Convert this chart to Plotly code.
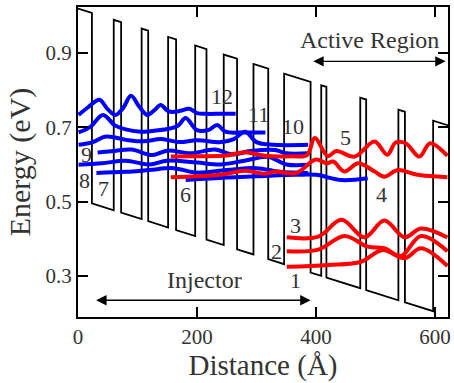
import plotly.graph_objects as go

# ---------------- data ----------------
# layer structure (Angstrom): barrier start / end positions
barrier_start = [0.0, 60.1, 107.0, 151.5, 197.0, 245.0, 295.0, 346.5, 408.9, 474.5, 538.6, 597.0]
barrier_end = [23.4, 72.5, 118.0, 164.9, 216.0, 267.4, 319.8, 391.0, 417.6, 484.4, 549.6, 640.0]
well_bottom_at_0 = 0.507   # eV, conduction band edge of the well at x = 0
band_offset = 0.512        # eV, barrier height
field_slope = 0.000505     # eV per Angstrom (applied field)

# moduli squared of wavefunctions, drawn at their energy (x in Angstrom, E in eV)
s12_x = [1, 18, 36, 50, 63, 76, 89, 103, 116.5, 128, 139, 150, 158, 172, 187, 200, 215, 240, 265]
s12_E = [0.733, 0.755, 0.774, 0.748, 0.733, 0.752, 0.7845, 0.755, 0.733, 0.745, 0.760, 0.745, 0.741, 0.744, 0.7495, 0.738, 0.736, 0.736, 0.736]
s11_x = [1, 20, 42, 62, 80, 105, 125, 150, 168, 181, 200, 220, 234, 248, 280, 315]
s11_E = [0.686, 0.700, 0.733, 0.705, 0.694, 0.688, 0.690, 0.695, 0.704, 0.7245, 0.692, 0.693, 0.706, 0.688, 0.686, 0.686]
s10_x = [1, 25, 47, 81, 110, 140, 170, 200, 240, 262, 281, 300, 330, 387]
s10_E = [0.6526, 0.660, 0.675, 0.666, 0.662, 0.668, 0.660, 0.665, 0.660, 0.668, 0.688, 0.660, 0.6526, 0.6526]
s9_x = [33, 60, 90, 125, 150, 190, 230, 260, 290, 331, 350, 387]
s9_E = [0.632, 0.636, 0.640, 0.625, 0.637, 0.630, 0.640, 0.627, 0.636, 0.639, 0.630, 0.630]
s8_x = [1, 40, 80, 120, 150, 200, 240, 280, 320, 350, 387]
s8_E = [0.599, 0.603, 0.610, 0.600, 0.610, 0.605, 0.600, 0.610, 0.620, 0.600, 0.599]
s7_x = [31, 80, 120, 160, 200, 250, 300, 340, 387]
s7_E = [0.577, 0.580, 0.585, 0.590, 0.578, 0.585, 0.590, 0.580, 0.577]
s6_x = [181, 250, 300, 366, 400, 443, 487]
s6_E = [0.5584, 0.565, 0.568, 0.572, 0.572, 0.558, 0.563]
s5_x = [156, 200, 250, 280, 315, 360, 385, 398, 420, 434, 465, 498.5, 520, 534, 551, 574, 592, 621]
s5_E = [0.621, 0.622, 0.624, 0.633, 0.623, 0.622, 0.625, 0.6707, 0.622, 0.636, 0.621, 0.6615, 0.626, 0.659, 0.657, 0.621, 0.657, 0.623]
s4_x = [156, 200, 240, 281, 315, 331, 366, 400, 418, 429, 448, 471, 498.5, 515, 537.5, 571, 621]
s4_E = [0.5657, 0.568, 0.572, 0.583, 0.575, 0.581, 0.5764, 0.613, 0.603, 0.6077, 0.581, 0.603, 0.581, 0.567, 0.585, 0.572, 0.5657]
s3_x = [351, 404, 443, 482, 515, 549, 576.5, 621]
s3_E = [0.404, 0.406, 0.451, 0.404, 0.449, 0.404, 0.428, 0.404]
s2_x = [351, 404, 448, 487, 515, 543, 576.5, 621]
s2_E = [0.367, 0.371, 0.4077, 0.379, 0.3746, 0.354, 0.4077, 0.367]
s1_x = [351, 420, 476, 512, 549, 576.5, 621]
s1_E = [0.325, 0.330, 0.3385, 0.370, 0.3476, 0.3746, 0.327]

injector_states = [(s12_x, s12_E), (s11_x, s11_E), (s10_x, s10_E), (s9_x, s9_E),
                   (s8_x, s8_E), (s7_x, s7_E), (s6_x, s6_E)]
active_states = [(s5_x, s5_E), (s4_x, s4_E), (s3_x, s3_E), (s2_x, s2_E), (s1_x, s1_E)]

state_labels = ["12", "11", "10", "9", "8", "7", "6", "5", "4", "3", "2", "1"]
label_x = [242, 304, 362, 15, 11, 43, 181, 449.5, 510, 365, 334, 366]
label_E = [0.782, 0.733, 0.701, 0.626, 0.558, 0.534, 0.518, 0.673, 0.518, 0.437, 0.365, 0.289]

injector_span = [28, 391]
injector_arrow_E = 0.235
active_span = [393, 618]
active_arrow_E = 0.877

x_ticks = [0, 200, 400, 600]
y_ticks = [0.3, 0.5, 0.7, 0.9]

# ---------------- figure ----------------
def band_edge(x, in_barrier):
    return well_bottom_at_0 - field_slope * x + (band_offset if in_barrier else 0.0)

bx, by = [], []
for i, (s, e) in enumerate(zip(barrier_start, barrier_end)):
    if i > 0:
        bx.append(s); by.append(band_edge(s, False))
    bx += [s, e]; by += [band_edge(s, True), band_edge(e, True)]
    bx.append(e); by.append(band_edge(e, False))

FONT = "Liberation Serif"
fig = go.Figure()
fig.add_trace(go.Scatter(x=bx, y=by, mode="lines", line=dict(color="black", width=1.8),
                         hoverinfo="skip", showlegend=False))
for xs, es in injector_states:
    fig.add_trace(go.Scatter(x=xs, y=es, mode="lines",
                             line=dict(color="#0000FF", width=4, shape="spline", smoothing=1.0),
                             showlegend=False))
for xs, es in active_states:
    fig.add_trace(go.Scatter(x=xs, y=es, mode="lines",
                             line=dict(color="#FF0000", width=4, shape="spline", smoothing=1.0),
                             showlegend=False))

annotations = []
for t, x, e in zip(state_labels, label_x, label_E):
    annotations.append(dict(x=x, y=e, text=t, showarrow=False, xref="x", yref="y",
                            font=dict(family=FONT, size=22, color="#333333")))
annotations.append(dict(x=212, y=0.289, text="Injector", showarrow=False,
                        font=dict(family=FONT, size=24, color="#333333")))
annotations.append(dict(x=490, y=0.935, text="Active Region", showarrow=False,
                        font=dict(family=FONT, size=24, color="#333333")))
for span, ee in [(injector_span, injector_arrow_E), (active_span, active_arrow_E)]:
    annotations.append(dict(x=span[1], y=ee, ax=span[0], ay=ee, xref="x", yref="y",
                            axref="x", ayref="y", showarrow=True, arrowhead=2,
                            arrowside="end+start", arrowsize=1.6, arrowwidth=1.3,
                            arrowcolor="black", text=""))

axis_common = dict(showline=True, linewidth=2, linecolor="black", mirror="ticks",
                   ticks="inside", ticklen=10, tickwidth=1.5, tickcolor="black",
                   showgrid=False, zeroline=False,
                   tickfont=dict(family=FONT, size=21, color="#333333"))
fig.update_layout(
    width=454, height=383,
    margin=dict(l=78, r=3, t=7, b=66),
    paper_bgcolor="white", plot_bgcolor="white",
    font=dict(family=FONT),
    xaxis=dict(range=[0, 622], tickvals=x_ticks,
               title=dict(text="Distance (Å)", font=dict(family=FONT, size=29, color="#333333"),
                          standoff=4),
               **axis_common),
    yaxis=dict(range=[0.19, 1.023], tickvals=y_ticks, ticktext=[f"{v:.1f}" for v in y_ticks],
               title=dict(text="Energy (eV)", font=dict(family=FONT, size=30, color="#333333"),
                          standoff=6),
               **axis_common),
    annotations=annotations,
)
fig.write_html("out.html")
